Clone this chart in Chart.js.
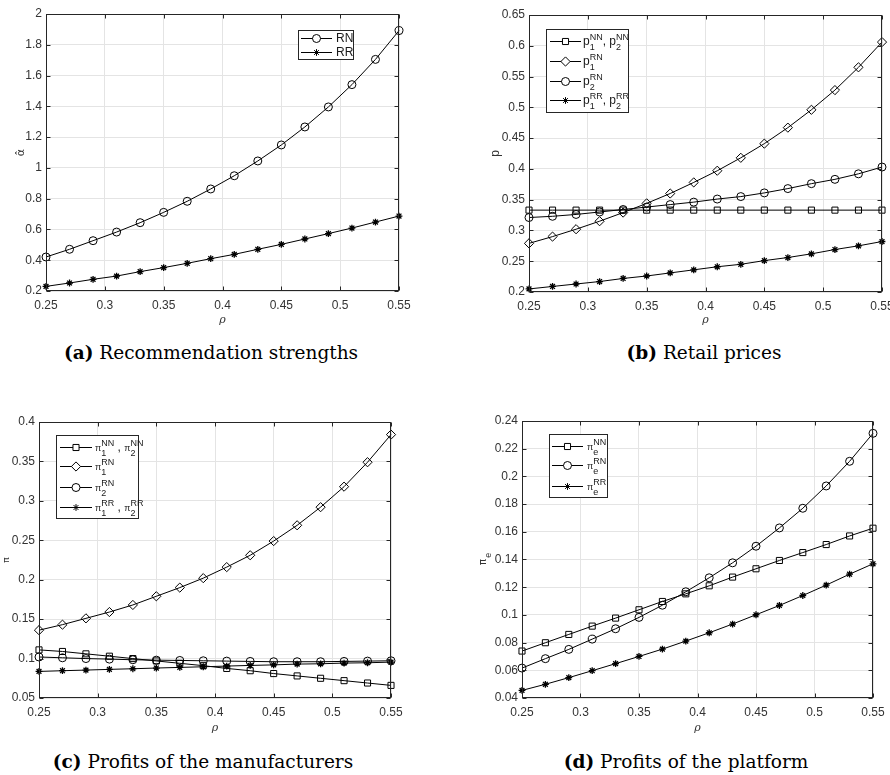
<!DOCTYPE html>
<html>
<head>
<meta charset="utf-8">
<script src="https://cdn.jsdelivr.net/npm/chart.js@4.4.1/dist/chart.umd.min.js"></script>
<style>
  body { margin: 0; background: #fff; width: 890px; height: 775px; position: relative; overflow: hidden; }
  canvas { position: absolute; }
  .cap { position: absolute; font-family: "DejaVu Serif", serif; font-size: 18.5px; color: #000; white-space: nowrap; transform: translateX(-50%); line-height: 22px; }
</style>
</head>
<body>
<canvas id="chartA" width="430" height="335" style="left:0;top:0"></canvas>
<canvas id="chartB" width="445" height="335" style="left:445px;top:0"></canvas>
<canvas id="chartC" width="430" height="350" style="left:0;top:385px"></canvas>
<canvas id="chartD" width="445" height="350" style="left:445px;top:385px"></canvas>
<div class="cap" style="left:211px;top:342px"><b>(a)</b> Recommendation strengths</div>
<div class="cap" style="left:704px;top:342px"><b>(b)</b> Retail prices</div>
<div class="cap" style="left:203px;top:751px"><b>(c)</b> Profits of the manufacturers</div>
<div class="cap" style="left:686px;top:751px"><b>(d)</b> Profits of the platform</div>
<script>
const rho = [0.25, 0.27, 0.29, 0.31, 0.33, 0.35, 0.37, 0.39, 0.41, 0.43, 0.45, 0.47, 0.49, 0.51, 0.53, 0.55];
const xTicks = [0.25, 0.3, 0.35, 0.4, 0.45, 0.5, 0.55];

// (a) recommendation strengths
const alphaRN = [0.421, 0.471, 0.527, 0.583, 0.644, 0.711, 0.783, 0.863, 0.949, 1.045, 1.149, 1.266, 1.396, 1.541, 1.705, 1.892];
const alphaRR = [0.230, 0.252, 0.276, 0.297, 0.326, 0.352, 0.380, 0.410, 0.438, 0.471, 0.503, 0.538, 0.573, 0.609, 0.648, 0.687];
const aTicks = [0.2, 0.4, 0.6, 0.8, 1, 1.2, 1.4, 1.6, 1.8, 2];

// (b) retail prices
const pNN = [0.333, 0.333, 0.333, 0.333, 0.333, 0.333, 0.333, 0.333, 0.333, 0.333, 0.333, 0.333, 0.333, 0.333, 0.333, 0.333];
const p1RN = [0.279, 0.290, 0.302, 0.315, 0.329, 0.344, 0.360, 0.378, 0.397, 0.418, 0.441, 0.467, 0.496, 0.528, 0.565, 0.606];
const p2RN = [0.321, 0.323, 0.326, 0.330, 0.334, 0.338, 0.342, 0.346, 0.351, 0.355, 0.361, 0.368, 0.376, 0.383, 0.392, 0.403];
const pRR = [0.205, 0.209, 0.213, 0.217, 0.222, 0.226, 0.231, 0.236, 0.241, 0.245, 0.251, 0.256, 0.262, 0.269, 0.275, 0.282];
const bTicks = [0.2, 0.25, 0.3, 0.35, 0.4, 0.45, 0.5, 0.55, 0.6, 0.65];

// (c) profits of the manufacturers
const piNN = [0.111, 0.109, 0.106, 0.103, 0.100, 0.097, 0.094, 0.091, 0.0875, 0.0846, 0.081, 0.078, 0.075, 0.072, 0.069, 0.066];
const pi1RN = [0.136, 0.143, 0.151, 0.159, 0.168, 0.179, 0.190, 0.202, 0.216, 0.231, 0.249, 0.269, 0.292, 0.318, 0.349, 0.384];
const pi2RN = [0.102, 0.101, 0.100, 0.0993, 0.0985, 0.098, 0.0976, 0.0972, 0.0968, 0.0964, 0.096, 0.096, 0.096, 0.0964, 0.0968, 0.0972];
const piRR = [0.0837, 0.0846, 0.0854, 0.0863, 0.0871, 0.088, 0.0888, 0.0896, 0.0905, 0.0913, 0.092, 0.093, 0.0934, 0.0943, 0.0947, 0.0955];
const cTicks = [0.05, 0.1, 0.15, 0.2, 0.25, 0.3, 0.35, 0.4];

// (d) profits of the platform
const peNN = [0.0739, 0.0799, 0.0859, 0.0919, 0.0977, 0.1037, 0.1097, 0.1152, 0.121, 0.1273, 0.1333, 0.1393, 0.145, 0.1508, 0.157, 0.1626];
const peRN = [0.0616, 0.0684, 0.0751, 0.0825, 0.090, 0.0982, 0.107, 0.1167, 0.1268, 0.1376, 0.1496, 0.1628, 0.177, 0.1931, 0.2109, 0.2311];
const peRR = [0.0455, 0.0499, 0.0547, 0.0597, 0.0648, 0.070, 0.0753, 0.0811, 0.0871, 0.0934, 0.1001, 0.1068, 0.114, 0.1215, 0.1294, 0.1369];
const dTicks = [0.04, 0.06, 0.08, 0.1, 0.12, 0.14, 0.16, 0.18, 0.2, 0.22, 0.24];

const AXIS = "#262626";
const SANS = "'Liberation Sans', Arial, sans-serif";
const markerSize = { circle: 4, rect: 4.3, rectRot: 4.6, star: 3.4 };

const fmt = (v) => String(parseFloat(v.toFixed(4)));

// draws text with optional superscript / subscript, vertically centred on y
const drawRich = (ctx, x, y, parts) => {
  parts.forEach((p) => {
    ctx.font = (p.size || 12) + "px " + SANS;
    ctx.fillText(p.t, x, y + 4);
    x += ctx.measureText(p.t).width;
    if (p.sup || p.sub) {
      ctx.font = "9px " + SANS;
      let w = 0;
      if (p.sup) { ctx.fillText(p.sup, x, y - 1); w = ctx.measureText(p.sup).width; }
      if (p.sub) { ctx.fillText(p.sub, x, y + 9); w = Math.max(w, ctx.measureText(p.sub).width); }
      x += w;
    }
  });
};

const deco = {
  id: "deco",
  afterDraw(chart, args, o) {
    const ctx = chart.ctx;
    const a = chart.chartArea;
    const L = Math.round(a.left) + 0.5, R = Math.round(a.right) - 0.5;
    const T = Math.round(a.top) + 0.5, B = Math.round(a.bottom) - 0.5;
    ctx.save();
    ctx.strokeStyle = AXIS;
    ctx.lineWidth = 1;
    ctx.strokeRect(L, T, R - L, B - T);
    // inward ticks on all four sides
    ctx.beginPath();
    chart.scales.x.ticks.forEach((t) => {
      const px = Math.round(chart.scales.x.getPixelForValue(t.value)) + 0.5;
      ctx.moveTo(px, B); ctx.lineTo(px, B - 4);
      ctx.moveTo(px, T); ctx.lineTo(px, T + 4);
    });
    chart.scales.y.ticks.forEach((t) => {
      const py = Math.round(chart.scales.y.getPixelForValue(t.value)) + 0.5;
      ctx.moveTo(L, py); ctx.lineTo(L + 4, py);
      ctx.moveTo(R, py); ctx.lineTo(R - 4, py);
    });
    ctx.stroke();

    // axis titles
    ctx.fillStyle = "#333";
    ctx.textAlign = "center";
    ctx.textBaseline = "middle";
    ctx.font = "italic 11px 'DejaVu Serif', serif";
    ctx.fillText("ρ", (a.left + a.right) / 2, a.bottom + o.xTitleDy);
    ctx.save();
    ctx.translate(a.left - o.yTitleDx, (a.top + a.bottom) / 2);
    ctx.rotate(-Math.PI / 2);
    ctx.textAlign = "left";
    ctx.textBaseline = "alphabetic";
    ctx.font = o.yTitle.font;
    const w = ctx.measureText(o.yTitle.t).width + (o.yTitle.sub ? 5 : 0);
    ctx.fillText(o.yTitle.t, -w / 2, 4);
    if (o.yTitle.sub) {
      ctx.font = "9px " + SANS;
      ctx.fillText(o.yTitle.sub, -w / 2 + ctx.measureText(o.yTitle.t).width + 1, 9);
    }
    ctx.restore();

    // legend box
    const lg = o.legend;
    ctx.fillStyle = "#fff";
    ctx.fillRect(lg.x0, lg.y0, lg.x1 - lg.x0, lg.y1 - lg.y0);
    ctx.strokeStyle = AXIS;
    ctx.strokeRect(lg.x0 + 0.5, lg.y0 + 0.5, lg.x1 - lg.x0, lg.y1 - lg.y0);
    ctx.textAlign = "left";
    ctx.textBaseline = "alphabetic";
    lg.rows.forEach((row) => {
      const ds = chart.data.datasets[row.ds];
      const yy = Math.round(row.y) + 0.5;
      ctx.strokeStyle = "#000";
      ctx.beginPath();
      ctx.moveTo(lg.lineX0, yy);
      ctx.lineTo(lg.lineX1, yy);
      ctx.stroke();
      ctx.fillStyle = "#fff";
      Chart.helpers.drawPoint(ctx, { pointStyle: ds.pointStyle, radius: ds.pointRadius, rotation: 0, borderWidth: 1 }, (lg.lineX0 + lg.lineX1) / 2, yy);
      ctx.fillStyle = "#1a1a1a";
      drawRich(ctx, lg.textX, row.y, row.parts);
    });
    ctx.restore();
  },
};

const makeChart = (id, series, yTicks, box, deco_opts) => {
  new Chart(document.getElementById(id), {
    type: "line",
    data: {
      datasets: series.map((s) => ({
        data: rho.map((r, i) => ({ x: r, y: s.values[i] })),
        borderColor: "#000",
        borderWidth: 1,
        pointStyle: s.marker,
        pointRadius: markerSize[s.marker],
        pointBorderColor: "#000",
        pointBackgroundColor: "rgba(0,0,0,0)",
        pointBorderWidth: s.marker === "star" ? 1.3 : 1,
        tension: 0,
        clip: false,
      })),
    },
    options: {
      responsive: false,
      animation: false,
      devicePixelRatio: 1,
      layout: { autoPadding: false, padding: { left: 0, top: box.top, right: box.right, bottom: 0 } },
      scales: {
        x: {
          type: "linear",
          min: 0.25,
          max: 0.55,
          afterBuildTicks: (s) => { s.ticks = xTicks.map((v) => ({ value: v })); },
          afterFit: (s) => { s.height = box.xh; s.paddingLeft = 0; s.paddingRight = 0; },
          ticks: { callback: fmt, padding: 7, maxRotation: 0, color: "#333", font: { family: SANS, size: 12 } },
          grid: { color: "#e4e4e4", drawTicks: false },
          border: { display: false },
        },
        y: {
          type: "linear",
          min: yTicks[0],
          max: yTicks[yTicks.length - 1],
          afterBuildTicks: (s) => { s.ticks = yTicks.map((v) => ({ value: v })); },
          afterFit: (s) => { s.width = box.yw; s.paddingTop = 0; s.paddingBottom = 0; },
          ticks: { callback: fmt, padding: 4, color: "#333", font: { family: SANS, size: 12 } },
          grid: { color: "#e4e4e4", drawTicks: false },
          border: { display: false },
        },
      },
      plugins: { legend: { display: false }, tooltip: { enabled: false }, deco: deco_opts },
    },
    plugins: [deco],
  });
};

makeChart("chartA",
  [{ values: alphaRN, marker: "circle" }, { values: alphaRR, marker: "star" }],
  aTicks, { top: 14, right: 31, yw: 46, xh: 44 },
  {
    xTitleDy: 29, yTitleDx: 26,
    yTitle: { t: "α̂", font: "11px 'DejaVu Sans', sans-serif" },
    legend: {
      x0: 298, y0: 30, x1: 353, y1: 59, lineX0: 301, lineX1: 332, textX: 336,
      rows: [
        { ds: 0, y: 38, parts: [{ t: "RN" }] },
        { ds: 1, y: 52, parts: [{ t: "RR" }] },
      ],
    },
  });

makeChart("chartB",
  [{ values: pNN, marker: "rect" }, { values: p1RN, marker: "rectRot" }, { values: p2RN, marker: "circle" }, { values: pRR, marker: "star" }],
  bTicks, { top: 15, right: 8, yw: 84, xh: 43 },
  {
    xTitleDy: 28, yTitleDx: 34,
    yTitle: { t: "p", font: "12px " + SANS },
    legend: {
      x0: 101, y0: 29, x1: 183, y1: 112, lineX0: 105, lineX1: 136, textX: 138,
      rows: [
        { ds: 0, y: 41, parts: [{ t: "p", sup: "NN", sub: "1" }, { t: ", " }, { t: "p", sup: "NN", sub: "2" }] },
        { ds: 1, y: 61, parts: [{ t: "p", sup: "RN", sub: "1" }] },
        { ds: 2, y: 81, parts: [{ t: "p", sup: "RN", sub: "2" }] },
        { ds: 3, y: 100, parts: [{ t: "p", sup: "RR", sub: "1" }, { t: ", " }, { t: "p", sup: "RR", sub: "2" }] },
      ],
    },
  });

makeChart("chartC",
  [{ values: piNN, marker: "rect" }, { values: pi1RN, marker: "rectRot" }, { values: pi2RN, marker: "circle" }, { values: piRR, marker: "star" }],
  cTicks, { top: 37, right: 39, yw: 39, xh: 37 },
  {
    xTitleDy: 30, yTitleDx: 34,
    yTitle: { t: "π", font: "9px 'DejaVu Sans', sans-serif" },
    legend: {
      x0: 56, y0: 50, x1: 138, y1: 133, lineX0: 60, lineX1: 92, textX: 95,
      rows: [
        { ds: 0, y: 62, parts: [{ t: "π", size: 9, sup: "NN", sub: "1" }, { t: " , " }, { t: "π", size: 9, sup: "NN", sub: "2" }] },
        { ds: 1, y: 81, parts: [{ t: "π", size: 9, sup: "RN", sub: "1" }] },
        { ds: 2, y: 102, parts: [{ t: "π", size: 9, sup: "RN", sub: "2" }] },
        { ds: 3, y: 122, parts: [{ t: "π", size: 9, sup: "RR", sub: "1" }, { t: " , " }, { t: "π", size: 9, sup: "RR", sub: "2" }] },
      ],
    },
  });

makeChart("chartD",
  [{ values: peNN, marker: "rect" }, { values: peRN, marker: "circle" }, { values: peRR, marker: "star" }],
  dTicks, { top: 36, right: 17, yw: 77, xh: 37 },
  {
    xTitleDy: 30, yTitleDx: 40,
    yTitle: { t: "π", sub: "e", font: "10px 'DejaVu Sans', sans-serif" },
    legend: {
      x0: 104, y0: 49, x1: 162, y1: 112, lineX0: 107, lineX1: 138, textX: 142,
      rows: [
        { ds: 0, y: 61, parts: [{ t: "π", size: 9, sup: "NN", sub: "e" }] },
        { ds: 1, y: 80, parts: [{ t: "π", size: 9, sup: "RN", sub: "e" }] },
        { ds: 2, y: 101, parts: [{ t: "π", size: 9, sup: "RR", sub: "e" }] },
      ],
    },
  });
</script>
</body>
</html>
